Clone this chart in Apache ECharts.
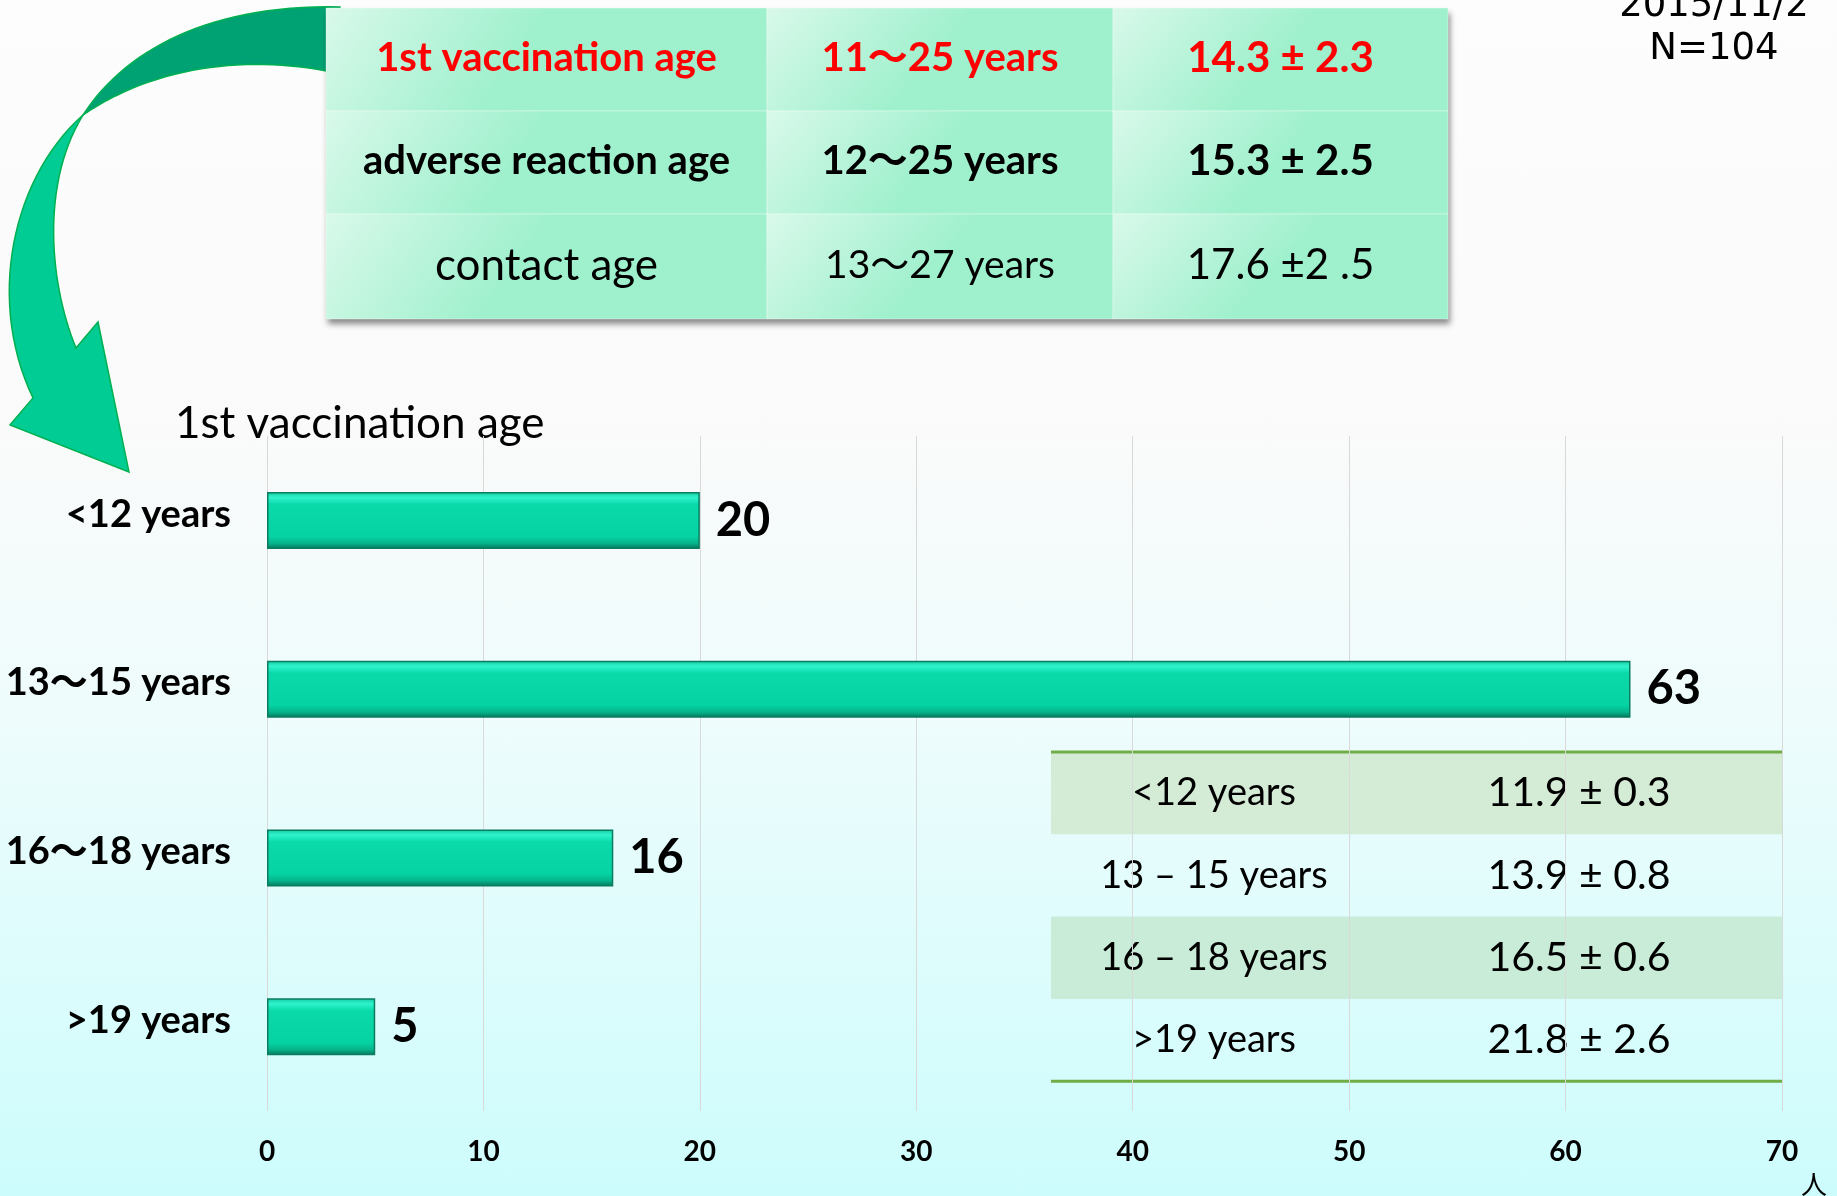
<!DOCTYPE html>
<html><head><meta charset="utf-8">
<script src="https://cdn.jsdelivr.net/npm/echarts@6/dist/echarts.min.js"></script>
<style>
html,body{margin:0;padding:0;width:1837px;height:1196px;overflow:hidden;
background:linear-gradient(to bottom,#fdfdfd 0%,#fafafa 36%,#eefcfc 60%,#cdfcfc 100%);}
#c{width:1837px;height:1196px;}
</style>
</head><body><div id="c"></div>
<script>
// ---- data ----
const categories = ['<12 years', '13～15 years', '16～18 years', '>19 years'];
const counts = [20, 63, 16, 5];
const xMin = 0, xMax = 70, xStep = 10;
const chartTitle = '1st vaccination age';
const unitLabel = '人';
const dateLine = '2015/11/2';
const nLine = 'N=104';
const summaryNames = ['1st vaccination age', 'adverse reaction age', 'contact age'];
const summaryRanges = ['11～25 years', '12～25 years', '13～27 years'];
const summaryMeans = ['14.3 ± 2.3', '15.3 ± 2.5', '17.6 ±2 .5'];
const groupNames = ['<12 years', '13 – 15 years', '16 – 18 years', '>19 years'];
const groupMeans = ['11.9 ± 0.3', '13.9 ± 0.8', '16.5 ± 0.6', '21.8 ± 2.6'];

// ---- decoration helpers ----
function cubic(p0, p1, p2, p3, n) {
  const pts = [];
  for (let i = 0; i <= n; i++) {
    const t = i / n, u = 1 - t;
    pts.push([
      u*u*u*p0[0] + 3*u*u*t*p1[0] + 3*u*t*t*p2[0] + t*t*t*p3[0],
      u*u*u*p0[1] + 3*u*u*t*p1[1] + 3*u*t*t*p2[1] + t*t*t*p3[1]
    ]);
  }
  return pts;
}
const T = [83, 115];
const darkPts = cubic(T, [125, 50], [210, 4], [340, 7], 30)
  .concat(cubic([340, 74], [260, 55], [160, 62], T, 30));
const lightPts = cubic(T, [12, 178], [-14, 300], [33, 398], 30)
  .concat([[10, 425], [129, 472], [98, 322], [76, 348]])
  .concat(cubic([76, 348], [50, 285], [40, 185], T, 30));

const graphics = [];
graphics.push({type: 'polygon', shape: {points: darkPts}, style: {fill: '#00a273', stroke: '#00b050', lineWidth: 1.5}});
graphics.push({type: 'polygon', shape: {points: lightPts}, style: {fill: '#00cc94', stroke: '#00b050', lineWidth: 1.5}});

// top summary table
const tX = [326, 767, 1113, 1448];
const tY = [8, 111, 214, 319];
graphics.push({type: 'rect', shape: {x: tX[0], y: tY[0], width: tX[3]-tX[0], height: tY[3]-tY[0]},
  style: {fill: '#b8f2d8', shadowBlur: 6, shadowOffsetX: 2, shadowOffsetY: 5, shadowColor: 'rgba(0,0,0,0.45)'}});
for (let r = 0; r < 3; r++) {
  for (let c = 0; c < 3; c++) {
    graphics.push({type: 'rect',
      shape: {x: tX[c], y: tY[r], width: tX[c+1]-tX[c], height: tY[r+1]-tY[r]},
      style: {fill: new echarts.graphic.LinearGradient(0, 0, 0.35, 1, [
        {offset: 0, color: '#d9f9ea'}, {offset: 1, color: '#9ff0cd'}]),
        stroke: 'rgba(255,255,255,0.35)', lineWidth: 1}});
  }
}
const fam = 'Lato, "Noto Sans CJK JP", sans-serif';
const topSizes = [[40, 40, 42], [40, 40, 42], [44, 39, 42]];
for (let r = 0; r < 3; r++) {
  const cy = (tY[r] + tY[r+1]) / 2 - 1;
  const color = r === 0 ? '#ff0000' : '#000000';
  const weight = r === 2 ? 'normal' : 'bold';
  const cells = [summaryNames[r], summaryRanges[r], summaryMeans[r]];
  for (let c = 0; c < 3; c++) {
    graphics.push({type: 'text', x: (tX[c] + tX[c+1]) / 2, y: cy,
      style: {text: cells[c], fill: color, font: weight + ' ' + topSizes[r][c] + 'px ' + fam,
        textAlign: 'center', textVerticalAlign: 'middle'}});
  }
}

// date / N
graphics.push({type: 'text', x: 1714, y: 6, style: {text: dateLine, fill: '#000', font: '37px "DejaVu Sans", Verdana, sans-serif', textAlign: 'center', textVerticalAlign: 'middle'}});
graphics.push({type: 'text', x: 1714, y: 49, style: {text: nLine, fill: '#000', font: '37px "DejaVu Sans", Verdana, sans-serif', textAlign: 'center', textVerticalAlign: 'middle'}});

// chart title & unit
graphics.push({type: 'text', x: 175, y: 424, style: {text: chartTitle, fill: '#000', font: '44px ' + fam, textAlign: 'left', textVerticalAlign: 'middle'}});
graphics.push({type: 'text', x: 1814, y: 1184, style: {text: unitLabel, fill: '#000', font: '26px "Noto Sans CJK JP", sans-serif', textAlign: 'center', textVerticalAlign: 'middle'}});

// inner group table
const gX0 = 1051, gX1 = 1782, gY0 = 752, gRow = 82.3;
for (let i = 0; i < 4; i++) {
  if (i % 2 === 0) {
    graphics.push({type: 'rect', z: -5, shape: {x: gX0, y: gY0 + i*gRow, width: gX1-gX0, height: gRow},
      style: {fill: i === 0 ? '#d4ebd5' : '#c9ecd9'}});
  }
  const cy = gY0 + (i + 0.5) * gRow;
  graphics.push({type: 'text', x: 1214, y: cy, style: {text: groupNames[i], fill: '#000', font: '38px ' + fam, textAlign: 'center', textVerticalAlign: 'middle'}});
  graphics.push({type: 'text', x: 1579, y: cy, style: {text: groupMeans[i], fill: '#000', font: '41px ' + fam, textAlign: 'center', textVerticalAlign: 'middle'}});
}
graphics.push({type: 'line', shape: {x1: gX0, y1: gY0, x2: gX1, y2: gY0}, style: {stroke: '#70ad47', lineWidth: 3}});
graphics.push({type: 'line', shape: {x1: gX0, y1: gY0 + 4*gRow, x2: gX1, y2: gY0 + 4*gRow}, style: {stroke: '#70ad47', lineWidth: 3}});

const chart = echarts.init(document.getElementById('c'));
chart.setOption({
  animation: false,
  backgroundColor: 'transparent',
  grid: {left: 267, right: 55, top: 436, height: 675, containLabel: false},
  xAxis: {
    type: 'value', min: xMin, max: xMax, interval: xStep,
    axisLine: {show: false}, axisTick: {show: false},
    splitLine: {show: true, lineStyle: {color: '#d9d9d9', width: 1}},
    axisLabel: {color: '#000', fontWeight: 'bold', fontSize: 28, fontFamily: fam, margin: 27}
  },
  yAxis: {
    type: 'category', data: categories, inverse: true,
    axisLine: {show: false}, axisTick: {show: false},
    axisLabel: {
      margin: 36,
      formatter: function (v) { return '{a|' + v + '}'; },
      rich: {a: {color: '#000', fontWeight: 'bold', fontSize: 38, fontFamily: fam, padding: [0, 0, 12, 0]}}
    }
  },
  series: [{
    type: 'bar', data: counts, barWidth: 57,
    itemStyle: {
      color: new echarts.graphic.LinearGradient(0, 0, 0, 1, [
        {offset: 0, color: '#12c99f'},
        {offset: 0.1, color: '#2ff3cc'},
        {offset: 0.22, color: '#0ad9aa'},
        {offset: 0.78, color: '#06d3a3'},
        {offset: 0.9, color: '#05b58b'},
        {offset: 1, color: '#04765b'}]),
      borderColor: '#0a7c60', borderWidth: 1.5
    },
    label: {show: true, position: 'right', distance: 16, color: '#000', fontWeight: 'bold', fontSize: 47, fontFamily: fam}
  }],
  graphic: {elements: graphics}
});
</script>
</body></html>
